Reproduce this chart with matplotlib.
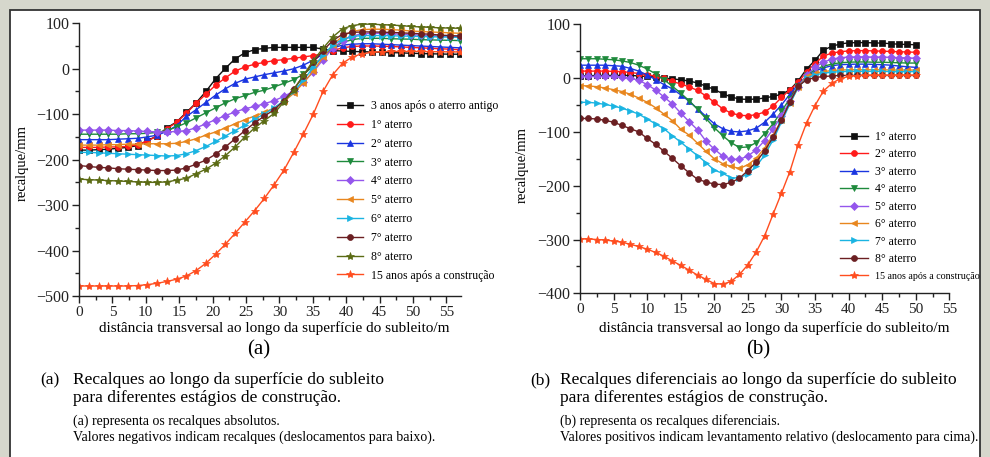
import numpy as np
import matplotlib
matplotlib.use('Agg')
from matplotlib import pyplot as plt
from matplotlib.patches import Rectangle
from matplotlib.ticker import MultipleLocator

plt.rcParams['font.family'] = ['Liberation Serif', 'DejaVu Serif']

W, H = 990, 457

# (a) recalques absolutos
x_a = np.linspace(0, 57, 40)
labels_a = ['3 anos após o aterro antigo', '1° aterro', '2° aterro', '3° aterro', '4° aterro',
            '5° aterro', '6° aterro', '7° aterro', '8° aterro', '15 anos após a construção']
a_3anos = [-179, -179, -178, -177, -175, -173, -169, -158, -148, -130, -117, -96, -75, -50, -22, 1, 22, 35, 42, 45,
           47, 47, 47, 47, 47, 43, 40, 39, 38, 37.5, 37, 36, 35.5, 35, 34, 33.5, 33, 32.5, 32, 32]
a_1 = [-173, -173, -173, -172, -172, -171, -167, -159, -148, -132, -118, -98, -76, -56, -36, -20, -5, 4, 10, 14,
       18, 20, 23, 26, 29, 33, 40, 46, 49, 50, 50, 49.5, 49, 48, 47, 46, 45, 44, 43, 42]
a_2 = [-156, -156, -156, -156, -155, -154, -153, -150, -146, -138, -125, -105, -90, -74, -58, -44, -32, -23, -18, -13,
       -9, -5, 0, 8, 19, 32, 46, 52, 54, 55, 55, 54, 53, 52, 51, 50, 49, 48, 47, 46]
a_3 = [-144, -144, -144, -144, -144, -143, -143, -142, -140, -136, -128, -119, -108, -97, -86, -75, -66, -59, -52, -47,
       -40, -32, -24, -12, 5, 27, 46, 58, 64, 67, 67, 67, 66, 65.5, 65, 64, 63.5, 63, 62.5, 62]
a_4 = [-135, -135, -135, -135, -136, -136, -137, -138, -139, -139, -138, -136, -130, -121, -112, -103, -95, -88, -83, -77,
       -70, -61, -49, -30, -7, 20, 45, 62, 72, 77, 78, 78, 77, 76, 75, 74, 73, 72, 71, 71]
a_5 = [-168, -168, -168, -167, -167, -166, -166, -165, -165, -165, -164, -160, -154, -146, -139, -130, -121, -112, -104, -96,
       -86, -72, -54, -31, -5, 25, 52, 72, 82, 86, 87, 87, 86, 85, 83, 82, 81, 80, 79, 78]
a_6 = [-184, -184, -185, -186, -187, -188, -189, -190, -191, -192, -191, -187, -180, -171, -160, -148, -136, -124, -111, -99,
       -86, -70, -50, -25, 3, 30, 52, 65, 71, 73, 73, 73, 72.5, 72, 71.5, 71, 70.5, 70, 69.5, 69]
a_7 = [-213, -215, -217, -218, -220, -221, -222, -223, -224, -224, -223, -218, -210, -201, -188, -172, -154, -136, -119, -104,
       -90, -70, -45, -15, 14, 40, 62, 76, 80, 81, 81, 80.5, 80, 79, 78, 77, 76, 74, 73, 72]
a_8 = [-243, -244, -245, -246, -247, -248, -249, -250, -250, -249, -245, -241, -231, -221, -208, -191, -172, -150, -130, -114,
       -98, -73, -47, -14, 18, 45, 70, 88, 95, 98, 98, 97, 96, 95, 93, 92, 91, 90, 89.5, 89]
a_15anos = [-478, -478, -478, -478, -478, -478, -477, -475, -472, -468, -463, -456, -444, -428, -408, -386, -362, -337, -312, -285,
            -255, -223, -184, -143, -100, -50, -13, 12, 26, 33, 36, 37.5, 38, 38, 38, 38, 37.5, 37.5, 37, 37]
series_a = [a_3anos, a_1, a_2, a_3, a_4, a_5, a_6, a_7, a_8, a_15anos]

# (b) recalques diferenciais
x_b = np.linspace(0, 50, 41)
labels_b = ['1° aterro', '2° aterro', '3° aterro', '4° aterro', '5° aterro',
            '6° aterro', '7° aterro', '8° aterro', '15 anos após a construção']
b_1 = [4, 4.5, 5, 5, 5, 5, 5, 4, 3, 2, 0, -1.5, -3, -5.5, -9, -15, -21, -29, -35, -39,
       -39.5, -39, -37, -34, -30, -22, -5, 17, 33, 52, 59, 63.5, 65.5, 66, 66, 65.5, 65, 64, 63, 62.5, 62]
b_2 = [13, 13, 13, 13, 12.5, 12, 10.5, 8.5, 6, 4, 0, -6, -11, -16, -23, -33, -45, -57, -65, -69,
       -70, -68, -63, -52, -36, -22, -8, 12, 27, 41, 46.5, 49, 50.5, 51, 51, 50.5, 50, 49.5, 49, 48.5, 48]
b_3 = [24, 24, 24, 24, 23, 22, 18, 13, 6, -3, -12, -20, -31, -43, -57, -71, -85, -94, -99, -100,
       -98, -93, -82, -67, -50, -30, -12, 3, 13, 19, 23, 25, 25.5, 26, 26, 25.5, 25, 24, 22.5, 21, 20]
b_4 = [36, 36, 36, 35, 34, 32, 29, 24, 17, 8, -3, -15, -28, -42, -58, -75, -92, -107, -120, -129,
       -128, -120, -103, -85, -62, -38, -15, 5, 16, 22, 26, 28.5, 29.5, 30, 30, 29.5, 29.5, 29, 28.5, 28, 28]
b_5 = [3, 3, 3, 3, 3, 2, 0, -4, -12, -22, -35, -48, -65, -81, -96, -117, -132, -145, -151, -151,
       -145, -133, -116, -95, -70, -43, -16, 6, 20, 30, 35, 38, 39, 39.5, 39.5, 39, 39, 38.5, 38, 37.5, 37]
b_6 = [-14, -14.5, -16, -18.5, -21.5, -25, -30, -37, -45, -55, -67, -79, -95, -106, -121, -136, -150, -159, -164, -168,
       -161, -149, -130, -106, -78, -47, -17, 3, 9, 12, 14, 15, 15.5, 15.5, 15.5, 15.5, 15.5, 15, 15, 15, 15]
b_7 = [-45, -45, -46.5, -49, -52, -56, -61, -67, -76, -85, -94, -107, -119, -132, -144, -157, -171, -177, -185, -186,
       -178, -164, -143, -115, -82, -48, -17, 0, 6, 9, 11, 12, 12.5, 12.5, 12.5, 12.5, 12.5, 12, 12, 12, 12]
b_8 = [-75, -75, -76, -78.5, -82, -88, -94, -100, -112, -123, -136, -149, -163, -176, -188, -193, -197, -198, -194, -186,
       -172, -156, -135, -110, -78, -45, -15, -3, 1, 3, 4, 5, 5, 5, 5, 5, 5, 5, 5, 5, 5]
b_15anos = [-299, -299, -300, -301, -303, -305, -309, -313, -318, -324, -331, -340, -348, -357, -366, -374, -382, -383, -378, -365,
            -347, -323, -293, -253, -214, -174, -124, -83, -51, -24, -10, -1, 3, 4.5, 5, 5, 5, 5, 5, 5, 5]
series_b = [b_1, b_2, b_3, b_4, b_5, b_6, b_7, b_8, b_15anos]

colors_a = ['#111111', '#ff1a1a', '#1a35e0', '#1e8a3c', '#9456ec', '#e8861e', '#1ab4e2', '#6b1f22', '#5b6b14', '#ff4d1f']
markers_a = ['s', 'o', '^', 'v', 'D', '<', '>', 'o', '*', '*']
colors_b = ['#111111', '#ff1a1a', '#1a35e0', '#1e8a3c', '#9456ec', '#e8861e', '#1ab4e2', '#6b1f22', '#ff4d1f']
markers_b = ['s', 'o', '^', 'v', 'D', '<', '>', 'o', '*']


def px(x, y):
    return x / W, 1 - y / H


fig = plt.figure(figsize=(W / 100, H / 100), dpi=100)
fig.patch.set_facecolor('#d6d7cc')
fig.patches.append(Rectangle(px(10, 462), 970 / W, 452 / H, transform=fig.transFigure,
                             facecolor='white', edgecolor='#333333', lw=1.3, zorder=-10))


def setup(ax, xlim, ylim, ystep):
    ax.set_xlim(*xlim)
    ax.set_ylim(*ylim)
    ax.patch.set_alpha(0)
    for s in ['top', 'right']:
        ax.spines[s].set_visible(False)
    for s in ['left', 'bottom']:
        ax.spines[s].set_linewidth(1.0)
        ax.spines[s].set_color('#222222')
    ax.xaxis.set_major_locator(MultipleLocator(5))
    ax.xaxis.set_minor_locator(MultipleLocator(2.5))
    ax.yaxis.set_major_locator(MultipleLocator(ystep))
    ax.yaxis.set_minor_locator(MultipleLocator(ystep / 2))
    ax.tick_params(which='major', direction='out', length=5, width=1, labelsize=11, pad=2, colors='#222222')
    ax.tick_params(axis='y', which='major', labelsize=11.5)
    ax.tick_params(which='minor', direction='out', length=3, width=1, colors='#222222')


def draw(ax, x, series, colors, markers):
    for y, c, m in zip(series, colors, markers):
        ms = 6 if m == '*' else (3.8 if m == 'D' else 4.3)
        ax.plot(x, y, color=c, marker=m, ms=ms, lw=1.0, mec=c, mew=0.5)


ax1 = fig.add_axes([79 / W, 1 - 296 / H, (461 - 79) / W, (296 - 23.3) / H])
setup(ax1, (0, 57.2), (-500, 100), 100)
draw(ax1, x_a, series_a, colors_a, markers_a)
leg1 = ax1.legend(labels_a, loc='upper left', bbox_to_anchor=px(337, 100), bbox_transform=fig.transFigure,
                  frameon=False, fontsize=8.5, handlelength=2.2, handletextpad=0.7, labelspacing=0.58,
                  borderpad=0, borderaxespad=0)

ax2 = fig.add_axes([580 / W, 1 - 293.3 / H, (949.3 - 580) / W, (293.3 - 24.3) / H])
setup(ax2, (0, 55), (-400, 100), 100)
draw(ax2, x_b, series_b, colors_b, markers_b)
leg2 = ax2.legend(labels_b, loc='upper left', bbox_to_anchor=px(840, 131), bbox_transform=fig.transFigure,
                  frameon=False, fontsize=8.5, handlelength=2.35, handletextpad=0.6, labelspacing=0.46,
                  borderpad=0, borderaxespad=0)
leg2.get_texts()[-1].set_fontsize(7.2)

fig.text(*px(22, 163), 'recalque/mm', rotation=90, ha='center', va='center', fontsize=10.5)
fig.text(*px(522, 165), 'recalque/mm', rotation=90, ha='center', va='center', fontsize=10.5)
xlab = 'distância transversal ao longo da superfície do subleito/m'
fig.text(*px(274, 328), xlab, ha='center', va='center', fontsize=11)
fig.text(*px(774, 328), xlab, ha='center', va='center', fontsize=11)
fig.text(*px(259, 350), '(a)', ha='center', va='center', fontsize=15)
fig.text(*px(758, 350), '(b)', ha='center', va='center', fontsize=15)

fig.text(*px(40, 380), '(a)', ha='left', va='center', fontsize=12.5)
fig.text(*px(73, 380), 'Recalques ao longo da superfície do subleito', ha='left', va='center', fontsize=12.5)
fig.text(*px(73, 398), 'para diferentes estágios de construção.', ha='left', va='center', fontsize=12.5)
fig.text(*px(73, 421), '(a) representa os recalques absolutos.', ha='left', va='center', fontsize=10)
fig.text(*px(73, 437), 'Valores negativos indicam recalques (deslocamentos para baixo).', ha='left', va='center', fontsize=10)

fig.text(*px(530, 380), '(b)', ha='left', va='center', fontsize=12.5)
fig.text(*px(560, 380), 'Recalques diferenciais ao longo da superfície do subleito', ha='left', va='center', fontsize=12.5)
fig.text(*px(560, 398), 'para diferentes estágios de construção.', ha='left', va='center', fontsize=12.5)
fig.text(*px(560, 421), '(b) representa os recalques diferenciais.', ha='left', va='center', fontsize=10)
fig.text(*px(560, 437), 'Valores positivos indicam levantamento relativo (deslocamento para cima).',
         ha='left', va='center', fontsize=10)

fig.savefig('out.png', dpi=100, facecolor=fig.get_facecolor())
